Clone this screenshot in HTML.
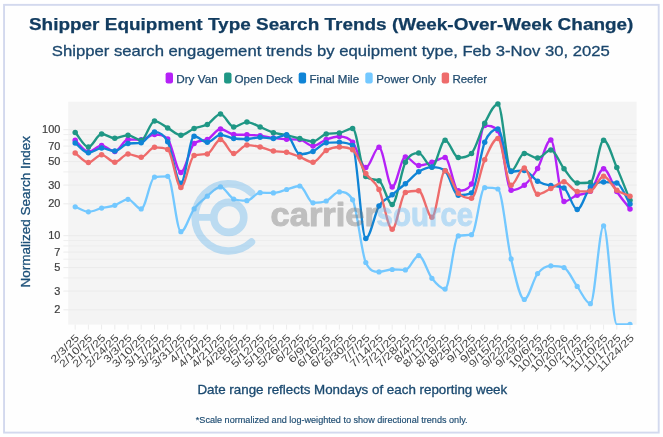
<!DOCTYPE html>
<html lang="en"><head><meta charset="utf-8"><title>Shipper Equipment Type Search Trends</title>
<style>html,body{margin:0;padding:0;background:#fff}svg{display:block;will-change:transform}text{font-family:"Liberation Sans",sans-serif}</style></head><body>
<svg width="663" height="437" viewBox="0 0 663 437">
<rect width="663" height="437" fill="#fff"/>
<rect x="4.05" y="4.85" width="654.65" height="427.75" fill="#fefefe" stroke="#d3d9ee" stroke-width="1.9"/>
<text x="331.2" y="30.4" text-anchor="middle" font-size="17.2" font-weight="bold" fill="#123c60" stroke="#123c60" stroke-width="0.25" textLength="604.5" lengthAdjust="spacingAndGlyphs">Shipper Equipment Type Search Trends (Week-Over-Week Change)</text>
<text x="330.8" y="55.8" text-anchor="middle" font-size="15" fill="#1b476d" stroke="#1b476d" stroke-width="0.3" textLength="558" lengthAdjust="spacingAndGlyphs">Shipper search engagement trends by equipment type, Feb 3-Nov 30, 2025</text>
<rect x="165.6" y="72.4" width="7.4" height="11" rx="2.2" fill="#b521f7"/>
<text x="176.2" y="82.7" font-size="11.4" fill="#1f4a6e" stroke="#1f4a6e" stroke-width="0.25" textLength="41.5" lengthAdjust="spacingAndGlyphs">Dry Van</text>
<rect x="224.1" y="72.4" width="7.4" height="11" rx="2.2" fill="#1f9785"/>
<text x="234.4" y="82.7" font-size="11.4" fill="#1f4a6e" stroke="#1f4a6e" stroke-width="0.25" textLength="58.2" lengthAdjust="spacingAndGlyphs">Open Deck</text>
<rect x="298.7" y="72.4" width="7.4" height="11" rx="2.2" fill="#0f84d6"/>
<text x="309.5" y="82.7" font-size="11.4" fill="#1f4a6e" stroke="#1f4a6e" stroke-width="0.25" textLength="49.6" lengthAdjust="spacingAndGlyphs">Final Mile</text>
<rect x="365.3" y="72.4" width="7.4" height="11" rx="2.2" fill="#73c8ff"/>
<text x="376.3" y="82.7" font-size="11.4" fill="#1f4a6e" stroke="#1f4a6e" stroke-width="0.25" textLength="59.7" lengthAdjust="spacingAndGlyphs">Power Only</text>
<rect x="441.7" y="72.4" width="7.4" height="11" rx="2.2" fill="#ee6b6b"/>
<text x="452.4" y="82.7" font-size="11.4" fill="#1f4a6e" stroke="#1f4a6e" stroke-width="0.25" textLength="34.6" lengthAdjust="spacingAndGlyphs">Reefer</text>
<rect x="68.2" y="101.7" width="568.4" height="222.9" fill="#f4f4f4"/>
<path d="M68.2 277.9H636.6" stroke="#ededed" stroke-width="1"/><path d="M68.2 259.2H636.6" stroke="#ededed" stroke-width="1"/><path d="M68.2 246H636.6" stroke="#ededed" stroke-width="1"/><path d="M68.2 240.6H636.6" stroke="#ededed" stroke-width="1"/><path d="M68.2 171.9H636.6" stroke="#ededed" stroke-width="1"/><path d="M68.2 153.2H636.6" stroke="#ededed" stroke-width="1"/><path d="M68.2 140H636.6" stroke="#ededed" stroke-width="1"/><path d="M68.2 134.6H636.6" stroke="#ededed" stroke-width="1"/><path d="M68.2 309.8H636.6" stroke="#ebebeb" stroke-width="1"/><path d="M68.2 291.1H636.6" stroke="#ebebeb" stroke-width="1"/><path d="M68.2 267.6H636.6" stroke="#ebebeb" stroke-width="1"/><path d="M68.2 252.1H636.6" stroke="#ebebeb" stroke-width="1"/><path d="M68.2 235.7H636.6" stroke="#ebebeb" stroke-width="1"/><path d="M68.2 203.8H636.6" stroke="#ebebeb" stroke-width="1"/><path d="M68.2 185.1H636.6" stroke="#ebebeb" stroke-width="1"/><path d="M68.2 161.6H636.6" stroke="#ebebeb" stroke-width="1"/><path d="M68.2 146.1H636.6" stroke="#ebebeb" stroke-width="1"/><path d="M68.2 129.7H636.6" stroke="#ebebeb" stroke-width="1"/>
<path d="M63.4 277.9H68.2" stroke="#efefef" stroke-width="1"/>
<path d="M63.4 259.2H68.2" stroke="#efefef" stroke-width="1"/>
<path d="M63.4 246H68.2" stroke="#efefef" stroke-width="1"/>
<path d="M63.4 240.6H68.2" stroke="#efefef" stroke-width="1"/>
<path d="M63.4 171.9H68.2" stroke="#efefef" stroke-width="1"/>
<path d="M63.4 153.2H68.2" stroke="#efefef" stroke-width="1"/>
<path d="M63.4 140H68.2" stroke="#efefef" stroke-width="1"/>
<path d="M63.4 134.6H68.2" stroke="#efefef" stroke-width="1"/>
<path d="M63.4 309.8H68.2" stroke="#ececec" stroke-width="1"/>
<text x="60.4" y="313.4" text-anchor="end" font-size="10.5" fill="#3e3e3e" stroke="#3e3e3e" stroke-width="0.2" textLength="6.1" lengthAdjust="spacingAndGlyphs">2</text>
<path d="M63.4 291.1H68.2" stroke="#ececec" stroke-width="1"/>
<text x="60.4" y="294.7" text-anchor="end" font-size="10.5" fill="#3e3e3e" stroke="#3e3e3e" stroke-width="0.2" textLength="6.1" lengthAdjust="spacingAndGlyphs">3</text>
<path d="M63.4 267.6H68.2" stroke="#ececec" stroke-width="1"/>
<text x="60.4" y="271.2" text-anchor="end" font-size="10.5" fill="#3e3e3e" stroke="#3e3e3e" stroke-width="0.2" textLength="6.1" lengthAdjust="spacingAndGlyphs">5</text>
<path d="M63.4 252.1H68.2" stroke="#ececec" stroke-width="1"/>
<text x="60.4" y="255.7" text-anchor="end" font-size="10.5" fill="#3e3e3e" stroke="#3e3e3e" stroke-width="0.2" textLength="6.1" lengthAdjust="spacingAndGlyphs">7</text>
<path d="M63.4 235.7H68.2" stroke="#ececec" stroke-width="1"/>
<text x="60.4" y="239.3" text-anchor="end" font-size="10.5" fill="#3e3e3e" stroke="#3e3e3e" stroke-width="0.2" textLength="12.2" lengthAdjust="spacingAndGlyphs">10</text>
<path d="M63.4 203.8H68.2" stroke="#ececec" stroke-width="1"/>
<text x="60.4" y="207.4" text-anchor="end" font-size="10.5" fill="#3e3e3e" stroke="#3e3e3e" stroke-width="0.2" textLength="12.2" lengthAdjust="spacingAndGlyphs">20</text>
<path d="M63.4 185.1H68.2" stroke="#ececec" stroke-width="1"/>
<text x="60.4" y="188.7" text-anchor="end" font-size="10.5" fill="#3e3e3e" stroke="#3e3e3e" stroke-width="0.2" textLength="12.2" lengthAdjust="spacingAndGlyphs">30</text>
<path d="M63.4 161.6H68.2" stroke="#ececec" stroke-width="1"/>
<text x="60.4" y="165.2" text-anchor="end" font-size="10.5" fill="#3e3e3e" stroke="#3e3e3e" stroke-width="0.2" textLength="12.2" lengthAdjust="spacingAndGlyphs">50</text>
<path d="M63.4 146.1H68.2" stroke="#ececec" stroke-width="1"/>
<text x="60.4" y="149.7" text-anchor="end" font-size="10.5" fill="#3e3e3e" stroke="#3e3e3e" stroke-width="0.2" textLength="12.2" lengthAdjust="spacingAndGlyphs">70</text>
<path d="M63.4 129.7H68.2" stroke="#ececec" stroke-width="1"/>
<text x="60.4" y="133.3" text-anchor="end" font-size="10.5" fill="#3e3e3e" stroke="#3e3e3e" stroke-width="0.2" textLength="18.3" lengthAdjust="spacingAndGlyphs">100</text>
<path d="M75.2 324.6V329.6" stroke="#ececec" stroke-width="1"/>
<text transform="translate(79.8 338.6) rotate(-45)" text-anchor="end" font-size="10.3" fill="#444" textLength="35.4" lengthAdjust="spacingAndGlyphs">2/3/25</text>
<path d="M88.4 324.6V329.6" stroke="#ececec" stroke-width="1"/>
<text transform="translate(93 338.6) rotate(-45)" text-anchor="end" font-size="10.3" fill="#444" textLength="41.7" lengthAdjust="spacingAndGlyphs">2/10/25</text>
<path d="M101.6 324.6V329.6" stroke="#ececec" stroke-width="1"/>
<text transform="translate(106.2 338.6) rotate(-45)" text-anchor="end" font-size="10.3" fill="#444" textLength="41.7" lengthAdjust="spacingAndGlyphs">2/17/25</text>
<path d="M114.8 324.6V329.6" stroke="#ececec" stroke-width="1"/>
<text transform="translate(119.4 338.6) rotate(-45)" text-anchor="end" font-size="10.3" fill="#444" textLength="41.7" lengthAdjust="spacingAndGlyphs">2/24/25</text>
<path d="M128 324.6V329.6" stroke="#ececec" stroke-width="1"/>
<text transform="translate(132.6 338.6) rotate(-45)" text-anchor="end" font-size="10.3" fill="#444" textLength="35.4" lengthAdjust="spacingAndGlyphs">3/3/25</text>
<path d="M141.2 324.6V329.6" stroke="#ececec" stroke-width="1"/>
<text transform="translate(145.8 338.6) rotate(-45)" text-anchor="end" font-size="10.3" fill="#444" textLength="41.7" lengthAdjust="spacingAndGlyphs">3/10/25</text>
<path d="M154.5 324.6V329.6" stroke="#ececec" stroke-width="1"/>
<text transform="translate(159.1 338.6) rotate(-45)" text-anchor="end" font-size="10.3" fill="#444" textLength="41.7" lengthAdjust="spacingAndGlyphs">3/17/25</text>
<path d="M167.7 324.6V329.6" stroke="#ececec" stroke-width="1"/>
<text transform="translate(172.3 338.6) rotate(-45)" text-anchor="end" font-size="10.3" fill="#444" textLength="41.7" lengthAdjust="spacingAndGlyphs">3/24/25</text>
<path d="M180.9 324.6V329.6" stroke="#ececec" stroke-width="1"/>
<text transform="translate(185.5 338.6) rotate(-45)" text-anchor="end" font-size="10.3" fill="#444" textLength="41.7" lengthAdjust="spacingAndGlyphs">3/31/25</text>
<path d="M194.1 324.6V329.6" stroke="#ececec" stroke-width="1"/>
<text transform="translate(198.7 338.6) rotate(-45)" text-anchor="end" font-size="10.3" fill="#444" textLength="35.4" lengthAdjust="spacingAndGlyphs">4/7/25</text>
<path d="M207.3 324.6V329.6" stroke="#ececec" stroke-width="1"/>
<text transform="translate(211.9 338.6) rotate(-45)" text-anchor="end" font-size="10.3" fill="#444" textLength="41.7" lengthAdjust="spacingAndGlyphs">4/14/25</text>
<path d="M220.5 324.6V329.6" stroke="#ececec" stroke-width="1"/>
<text transform="translate(225.1 338.6) rotate(-45)" text-anchor="end" font-size="10.3" fill="#444" textLength="41.7" lengthAdjust="spacingAndGlyphs">4/21/25</text>
<path d="M233.7 324.6V329.6" stroke="#ececec" stroke-width="1"/>
<text transform="translate(238.3 338.6) rotate(-45)" text-anchor="end" font-size="10.3" fill="#444" textLength="41.7" lengthAdjust="spacingAndGlyphs">4/28/25</text>
<path d="M246.9 324.6V329.6" stroke="#ececec" stroke-width="1"/>
<text transform="translate(251.5 338.6) rotate(-45)" text-anchor="end" font-size="10.3" fill="#444" textLength="35.4" lengthAdjust="spacingAndGlyphs">5/5/25</text>
<path d="M260.1 324.6V329.6" stroke="#ececec" stroke-width="1"/>
<text transform="translate(264.7 338.6) rotate(-45)" text-anchor="end" font-size="10.3" fill="#444" textLength="41.7" lengthAdjust="spacingAndGlyphs">5/12/25</text>
<path d="M273.4 324.6V329.6" stroke="#ececec" stroke-width="1"/>
<text transform="translate(278 338.6) rotate(-45)" text-anchor="end" font-size="10.3" fill="#444" textLength="41.7" lengthAdjust="spacingAndGlyphs">5/19/25</text>
<path d="M286.6 324.6V329.6" stroke="#ececec" stroke-width="1"/>
<text transform="translate(291.2 338.6) rotate(-45)" text-anchor="end" font-size="10.3" fill="#444" textLength="41.7" lengthAdjust="spacingAndGlyphs">5/26/25</text>
<path d="M299.8 324.6V329.6" stroke="#ececec" stroke-width="1"/>
<text transform="translate(304.4 338.6) rotate(-45)" text-anchor="end" font-size="10.3" fill="#444" textLength="35.4" lengthAdjust="spacingAndGlyphs">6/2/25</text>
<path d="M313 324.6V329.6" stroke="#ececec" stroke-width="1"/>
<text transform="translate(317.6 338.6) rotate(-45)" text-anchor="end" font-size="10.3" fill="#444" textLength="35.4" lengthAdjust="spacingAndGlyphs">6/9/25</text>
<path d="M326.2 324.6V329.6" stroke="#ececec" stroke-width="1"/>
<text transform="translate(330.8 338.6) rotate(-45)" text-anchor="end" font-size="10.3" fill="#444" textLength="41.7" lengthAdjust="spacingAndGlyphs">6/16/25</text>
<path d="M339.4 324.6V329.6" stroke="#ececec" stroke-width="1"/>
<text transform="translate(344 338.6) rotate(-45)" text-anchor="end" font-size="10.3" fill="#444" textLength="41.7" lengthAdjust="spacingAndGlyphs">6/23/25</text>
<path d="M352.6 324.6V329.6" stroke="#ececec" stroke-width="1"/>
<text transform="translate(357.2 338.6) rotate(-45)" text-anchor="end" font-size="10.3" fill="#444" textLength="41.7" lengthAdjust="spacingAndGlyphs">6/30/25</text>
<path d="M365.8 324.6V329.6" stroke="#ececec" stroke-width="1"/>
<text transform="translate(370.4 338.6) rotate(-45)" text-anchor="end" font-size="10.3" fill="#444" textLength="35.4" lengthAdjust="spacingAndGlyphs">7/7/25</text>
<path d="M379 324.6V329.6" stroke="#ececec" stroke-width="1"/>
<text transform="translate(383.6 338.6) rotate(-45)" text-anchor="end" font-size="10.3" fill="#444" textLength="41.7" lengthAdjust="spacingAndGlyphs">7/14/25</text>
<path d="M392.2 324.6V329.6" stroke="#ececec" stroke-width="1"/>
<text transform="translate(396.8 338.6) rotate(-45)" text-anchor="end" font-size="10.3" fill="#444" textLength="41.7" lengthAdjust="spacingAndGlyphs">7/21/25</text>
<path d="M405.4 324.6V329.6" stroke="#ececec" stroke-width="1"/>
<text transform="translate(410.1 338.6) rotate(-45)" text-anchor="end" font-size="10.3" fill="#444" textLength="41.7" lengthAdjust="spacingAndGlyphs">7/28/25</text>
<path d="M418.7 324.6V329.6" stroke="#ececec" stroke-width="1"/>
<text transform="translate(423.3 338.6) rotate(-45)" text-anchor="end" font-size="10.3" fill="#444" textLength="35.4" lengthAdjust="spacingAndGlyphs">8/4/25</text>
<path d="M431.9 324.6V329.6" stroke="#ececec" stroke-width="1"/>
<text transform="translate(436.5 338.6) rotate(-45)" text-anchor="end" font-size="10.3" fill="#444" textLength="41.7" lengthAdjust="spacingAndGlyphs">8/11/25</text>
<path d="M445.1 324.6V329.6" stroke="#ececec" stroke-width="1"/>
<text transform="translate(449.7 338.6) rotate(-45)" text-anchor="end" font-size="10.3" fill="#444" textLength="41.7" lengthAdjust="spacingAndGlyphs">8/18/25</text>
<path d="M458.3 324.6V329.6" stroke="#ececec" stroke-width="1"/>
<text transform="translate(462.9 338.6) rotate(-45)" text-anchor="end" font-size="10.3" fill="#444" textLength="41.7" lengthAdjust="spacingAndGlyphs">8/25/25</text>
<path d="M471.5 324.6V329.6" stroke="#ececec" stroke-width="1"/>
<text transform="translate(476.1 338.6) rotate(-45)" text-anchor="end" font-size="10.3" fill="#444" textLength="35.4" lengthAdjust="spacingAndGlyphs">9/1/25</text>
<path d="M484.7 324.6V329.6" stroke="#ececec" stroke-width="1"/>
<text transform="translate(489.3 338.6) rotate(-45)" text-anchor="end" font-size="10.3" fill="#444" textLength="35.4" lengthAdjust="spacingAndGlyphs">9/8/25</text>
<path d="M497.9 324.6V329.6" stroke="#ececec" stroke-width="1"/>
<text transform="translate(502.5 338.6) rotate(-45)" text-anchor="end" font-size="10.3" fill="#444" textLength="41.7" lengthAdjust="spacingAndGlyphs">9/15/25</text>
<path d="M511.1 324.6V329.6" stroke="#ececec" stroke-width="1"/>
<text transform="translate(515.7 338.6) rotate(-45)" text-anchor="end" font-size="10.3" fill="#444" textLength="41.7" lengthAdjust="spacingAndGlyphs">9/22/25</text>
<path d="M524.3 324.6V329.6" stroke="#ececec" stroke-width="1"/>
<text transform="translate(528.9 338.6) rotate(-45)" text-anchor="end" font-size="10.3" fill="#444" textLength="41.7" lengthAdjust="spacingAndGlyphs">9/29/25</text>
<path d="M537.6 324.6V329.6" stroke="#ececec" stroke-width="1"/>
<text transform="translate(542.2 338.6) rotate(-45)" text-anchor="end" font-size="10.3" fill="#444" textLength="41.7" lengthAdjust="spacingAndGlyphs">10/6/25</text>
<path d="M550.8 324.6V329.6" stroke="#ececec" stroke-width="1"/>
<text transform="translate(555.4 338.6) rotate(-45)" text-anchor="end" font-size="10.3" fill="#444" textLength="48" lengthAdjust="spacingAndGlyphs">10/13/25</text>
<path d="M564 324.6V329.6" stroke="#ececec" stroke-width="1"/>
<text transform="translate(568.6 338.6) rotate(-45)" text-anchor="end" font-size="10.3" fill="#444" textLength="48" lengthAdjust="spacingAndGlyphs">10/20/26</text>
<path d="M577.2 324.6V329.6" stroke="#ececec" stroke-width="1"/>
<text transform="translate(581.8 338.6) rotate(-45)" text-anchor="end" font-size="10.3" fill="#444" textLength="48" lengthAdjust="spacingAndGlyphs">10/27/25</text>
<path d="M590.4 324.6V329.6" stroke="#ececec" stroke-width="1"/>
<text transform="translate(595 338.6) rotate(-45)" text-anchor="end" font-size="10.3" fill="#444" textLength="41.7" lengthAdjust="spacingAndGlyphs">11/3/25</text>
<path d="M603.6 324.6V329.6" stroke="#ececec" stroke-width="1"/>
<text transform="translate(608.2 338.6) rotate(-45)" text-anchor="end" font-size="10.3" fill="#444" textLength="48" lengthAdjust="spacingAndGlyphs">11/10/25</text>
<path d="M616.8 324.6V329.6" stroke="#ececec" stroke-width="1"/>
<text transform="translate(621.4 338.6) rotate(-45)" text-anchor="end" font-size="10.3" fill="#444" textLength="48" lengthAdjust="spacingAndGlyphs">11/17/25</text>
<path d="M630 324.6V329.6" stroke="#ececec" stroke-width="1"/>
<text transform="translate(634.6 338.6) rotate(-45)" text-anchor="end" font-size="10.3" fill="#444" textLength="48" lengthAdjust="spacingAndGlyphs">11/24/25</text>
<text transform="translate(30.4 211.8) rotate(-90)" text-anchor="middle" font-size="13.2" fill="#1b4f78" stroke="#1b4f78" stroke-width="0.3" textLength="151.5" lengthAdjust="spacingAndGlyphs">Normalized Search Index</text>
<text x="352.3" y="394.1" text-anchor="middle" font-size="12.2" fill="#1b4a70" stroke="#1b4a70" stroke-width="0.3" textLength="309.8" lengthAdjust="spacingAndGlyphs">Date range reflects Mondays of each reporting week</text>
<text x="331.7" y="422.8" text-anchor="middle" font-size="8.8" fill="#1b4a70" stroke="#1b4a70" stroke-width="0.15" textLength="271.8" lengthAdjust="spacingAndGlyphs">*Scale normalized and log-weighted to show directional trends only.</text>
<defs><clipPath id="pc"><rect x="68.2" y="98.7" width="568.4" height="226.2"/></clipPath></defs>
<g clip-path="url(#pc)" fill="none" stroke-linejoin="round" stroke-linecap="round">
<path d="M75.2 140.3C79.6 144.1 84 151.8 88.4 151.8C92.8 151.8 97.2 145.6 101.6 145.6C106 145.6 110.4 151.4 114.8 151.4C119.2 151.4 123.6 139.5 128 139.5C132.4 139.5 136.8 139.8 141.2 139.8C145.7 139.8 150.1 134.5 154.5 134.5C158.9 134.5 163.3 134.5 167.7 139C172.1 143.5 176.5 172.4 180.9 172.4C185.3 172.4 189.7 147.2 194.1 143.5C198.5 139.8 202.9 141.1 207.3 139.5C211.7 137.9 216.1 129 220.5 129C224.9 129 229.3 134.2 233.7 134.5C238.1 134.8 242.5 134.7 246.9 134.8C251.3 134.9 255.7 135.2 260.1 135.7C264.5 136.2 268.9 137.3 273.4 137.9C277.8 138.5 282.2 139.2 286.6 139.3C291 139.4 295.4 139.3 299.8 139.6C304.2 139.9 308.6 146.1 313 146.1C317.4 146.1 321.8 141.1 326.2 139.5C330.6 137.9 335 136.5 339.4 136.5C343.8 136.5 348.2 137.1 352.6 142.3C357 147.5 361.4 167.6 365.8 167.6C370.2 167.6 374.6 147.3 379 147.3C383.4 147.3 387.8 186.9 392.2 186.9C396.6 186.9 401 156.9 405.4 156.9C409.9 156.9 414.3 165.5 418.7 165.5C423.1 165.5 427.5 163.6 431.9 162.3C436.3 161 440.7 157.6 445.1 157.6C449.5 157.6 453.9 190.7 458.3 190.7C462.7 190.7 467.1 190.7 471.5 184.1C475.9 177.5 480.3 125.6 484.7 125.6C489.1 125.6 493.5 125.6 497.9 130.8C502.3 136 506.7 190.2 511.1 190.2C515.5 190.2 519.9 188.8 524.3 185.2C528.7 181.6 533.1 176 537.6 168.5C542 161 546.4 140 550.8 140C555.2 140 559.6 201.5 564 201.5C568.4 201.5 572.8 196.7 577.2 195.2C581.6 193.7 586 194.9 590.4 191.2C594.8 187.5 599.2 168.8 603.6 168.8C608 168.8 612.4 184.8 616.8 191.5C621.2 198.2 625.6 203.2 630 209" stroke="#b521f7" stroke-width="2.35"/>
<g fill="#b521f7" stroke="none"><circle cx="75.2" cy="140.3" r="2.75"/><circle cx="88.4" cy="151.8" r="2.75"/><circle cx="101.6" cy="145.6" r="2.75"/><circle cx="114.8" cy="151.4" r="2.75"/><circle cx="128" cy="139.5" r="2.75"/><circle cx="141.2" cy="139.8" r="2.75"/><circle cx="154.5" cy="134.5" r="2.75"/><circle cx="167.7" cy="139" r="2.75"/><circle cx="180.9" cy="172.4" r="2.75"/><circle cx="194.1" cy="143.5" r="2.75"/><circle cx="207.3" cy="139.5" r="2.75"/><circle cx="220.5" cy="129" r="2.75"/><circle cx="233.7" cy="134.5" r="2.75"/><circle cx="246.9" cy="134.8" r="2.75"/><circle cx="260.1" cy="135.7" r="2.75"/><circle cx="273.4" cy="137.9" r="2.75"/><circle cx="286.6" cy="139.3" r="2.75"/><circle cx="299.8" cy="139.6" r="2.75"/><circle cx="313" cy="146.1" r="2.75"/><circle cx="326.2" cy="139.5" r="2.75"/><circle cx="339.4" cy="136.5" r="2.75"/><circle cx="352.6" cy="142.3" r="2.75"/><circle cx="365.8" cy="167.6" r="2.75"/><circle cx="379" cy="147.3" r="2.75"/><circle cx="392.2" cy="186.9" r="2.75"/><circle cx="405.4" cy="156.9" r="2.75"/><circle cx="418.7" cy="165.5" r="2.75"/><circle cx="431.9" cy="162.3" r="2.75"/><circle cx="445.1" cy="157.6" r="2.75"/><circle cx="458.3" cy="190.7" r="2.75"/><circle cx="471.5" cy="184.1" r="2.75"/><circle cx="484.7" cy="125.6" r="2.75"/><circle cx="497.9" cy="130.8" r="2.75"/><circle cx="511.1" cy="190.2" r="2.75"/><circle cx="524.3" cy="185.2" r="2.75"/><circle cx="537.6" cy="168.5" r="2.75"/><circle cx="550.8" cy="140" r="2.75"/><circle cx="564" cy="201.5" r="2.75"/><circle cx="577.2" cy="195.2" r="2.75"/><circle cx="590.4" cy="191.2" r="2.75"/><circle cx="603.6" cy="168.8" r="2.75"/><circle cx="616.8" cy="191.5" r="2.75"/><circle cx="630" cy="209" r="2.75"/></g>
<path d="M75.2 132.4C79.6 137.3 84 147 88.4 147C92.8 147 97.2 134 101.6 134C106 134 110.4 138.2 114.8 138.2C119.2 138.2 123.6 135.2 128 135.2C132.4 135.2 136.8 140.2 141.2 140.2C145.7 140.2 150.1 121.1 154.5 121.1C158.9 121.1 163.3 125.5 167.7 127.9C172.1 130.2 176.5 135.2 180.9 135.2C185.3 135.2 189.7 130.3 194.1 128.5C198.5 126.7 202.9 126.8 207.3 124.4C211.7 122 216.1 114.1 220.5 114.1C224.9 114.1 229.3 126.9 233.7 126.9C238.1 126.9 242.5 122.1 246.9 122.1C251.3 122.1 255.7 125.1 260.1 126.9C264.5 128.7 268.9 131.3 273.4 132.7C277.8 134.1 282.2 134.2 286.6 135.2C291 136.2 295.4 137.4 299.8 138.5C304.2 139.6 308.6 141.5 313 141.5C317.4 141.5 321.8 134.9 326.2 134C330.6 133.1 335 133.5 339.4 132.9C343.8 132.3 348.2 128.5 352.6 128.5C357 128.5 361.4 173 365.8 176.6C370.2 180.2 374.6 178.8 379 180.7C383.4 182.6 387.8 204.5 392.2 204.5C396.6 204.5 401 170.8 405.4 162.2C409.9 153.6 414.3 153.1 418.7 153.1C423.1 153.1 427.5 167.2 431.9 167.2C436.3 167.2 440.7 140.2 445.1 140.2C449.5 140.2 453.9 157.6 458.3 157.6C462.7 157.6 467.1 157.6 471.5 153.4C475.9 149.2 480.3 131.4 484.7 123.2C489.1 115 493.5 104.1 497.9 104.1C502.3 104.1 506.7 171 511.1 171C515.5 171 519.9 153.4 524.3 153.4C528.7 153.4 533.1 158.1 537.6 158.1C542 158.1 546.4 150 550.8 150C555.2 150 559.6 163.3 564 168.8C568.4 174.3 572.8 183 577.2 183C581.6 183 586 183 590.4 182.5C594.8 182 599.2 140.2 603.6 140.2C608 140.2 612.4 157.6 616.8 167.6C621.2 177.6 625.6 189.3 630 200.2" stroke="#1f9785" stroke-width="2.35"/>
<g fill="#1f9785" stroke="none"><circle cx="75.2" cy="132.4" r="2.75"/><circle cx="88.4" cy="147" r="2.75"/><circle cx="101.6" cy="134" r="2.75"/><circle cx="114.8" cy="138.2" r="2.75"/><circle cx="128" cy="135.2" r="2.75"/><circle cx="141.2" cy="140.2" r="2.75"/><circle cx="154.5" cy="121.1" r="2.75"/><circle cx="167.7" cy="127.9" r="2.75"/><circle cx="180.9" cy="135.2" r="2.75"/><circle cx="194.1" cy="128.5" r="2.75"/><circle cx="207.3" cy="124.4" r="2.75"/><circle cx="220.5" cy="114.1" r="2.75"/><circle cx="233.7" cy="126.9" r="2.75"/><circle cx="246.9" cy="122.1" r="2.75"/><circle cx="260.1" cy="126.9" r="2.75"/><circle cx="273.4" cy="132.7" r="2.75"/><circle cx="286.6" cy="135.2" r="2.75"/><circle cx="299.8" cy="138.5" r="2.75"/><circle cx="313" cy="141.5" r="2.75"/><circle cx="326.2" cy="134" r="2.75"/><circle cx="339.4" cy="132.9" r="2.75"/><circle cx="352.6" cy="128.5" r="2.75"/><circle cx="365.8" cy="176.6" r="2.75"/><circle cx="379" cy="180.7" r="2.75"/><circle cx="392.2" cy="204.5" r="2.75"/><circle cx="405.4" cy="162.2" r="2.75"/><circle cx="418.7" cy="153.1" r="2.75"/><circle cx="431.9" cy="167.2" r="2.75"/><circle cx="445.1" cy="140.2" r="2.75"/><circle cx="458.3" cy="157.6" r="2.75"/><circle cx="471.5" cy="153.4" r="2.75"/><circle cx="484.7" cy="123.2" r="2.75"/><circle cx="497.9" cy="104.1" r="2.75"/><circle cx="511.1" cy="171" r="2.75"/><circle cx="524.3" cy="153.4" r="2.75"/><circle cx="537.6" cy="158.1" r="2.75"/><circle cx="550.8" cy="150" r="2.75"/><circle cx="564" cy="168.8" r="2.75"/><circle cx="577.2" cy="183" r="2.75"/><circle cx="590.4" cy="182.5" r="2.75"/><circle cx="603.6" cy="140.2" r="2.75"/><circle cx="616.8" cy="167.6" r="2.75"/><circle cx="630" cy="200.2" r="2.75"/></g>
<path d="M75.2 143.1C79.6 146.3 84 152.8 88.4 152.8C92.8 152.8 97.2 148.1 101.6 148.1C106 148.1 110.4 151.1 114.8 151.1C119.2 151.1 123.6 143.9 128 143.5C132.4 143.1 136.8 143.4 141.2 142.8C145.7 142.2 150.1 131.9 154.5 131.9C158.9 131.9 163.3 133.2 167.7 141.8C172.1 150.3 176.5 183.2 180.9 183.2C185.3 183.2 189.7 136.2 194.1 136.2C198.5 136.2 202.9 142.3 207.3 142.3C211.7 142.3 216.1 134.8 220.5 134.8C224.9 134.8 229.3 138 233.7 138.5C238.1 139 242.5 139 246.9 139C251.3 139 255.7 137.3 260.1 137.3C264.5 137.3 268.9 138.5 273.4 138.5C277.8 138.5 282.2 134.8 286.6 134.8C291 134.8 295.4 154.4 299.8 154.4C304.2 154.4 308.6 153.3 313 151.4C317.4 149.5 321.8 143.3 326.2 142.8C330.6 142.3 335 142.3 339.4 142.3C343.8 142.3 348.2 142.3 352.6 145.6C357 148.9 361.4 238.5 365.8 238.5C370.2 238.5 374.6 213.4 379 206.1C383.4 198.8 387.8 198.5 392.2 194.8C396.6 191.1 401 187.5 405.4 183.7C409.9 179.9 414.3 174.6 418.7 171.8C423.1 169 427.5 167.1 431.9 167.1C436.3 167.1 440.7 167.1 445.1 170.8C449.5 174.5 453.9 195.2 458.3 195.2C462.7 195.2 467.1 195.2 471.5 192.9C475.9 190.6 480.3 153 484.7 142.3C489.1 131.7 493.5 129 497.9 129C502.3 129 506.7 171.6 511.1 171.6C515.5 171.6 519.9 170.4 524.3 170.4C528.7 170.4 533.1 178.7 537.6 181.2C542 183.7 546.4 184.9 550.8 185.6C555.2 186.3 559.6 185.7 564 188C568.4 190.3 572.8 209.5 577.2 209.5C581.6 209.5 586 191.6 590.4 187C594.8 182.4 599.2 182.1 603.6 182.1C608 182.1 612.4 182.1 616.8 182.9C621.2 183.7 625.6 197 630 204" stroke="#0f84d6" stroke-width="2.35"/>
<g fill="#0f84d6" stroke="none"><circle cx="75.2" cy="143.1" r="2.75"/><circle cx="88.4" cy="152.8" r="2.75"/><circle cx="101.6" cy="148.1" r="2.75"/><circle cx="114.8" cy="151.1" r="2.75"/><circle cx="128" cy="143.5" r="2.75"/><circle cx="141.2" cy="142.8" r="2.75"/><circle cx="154.5" cy="131.9" r="2.75"/><circle cx="167.7" cy="141.8" r="2.75"/><circle cx="180.9" cy="183.2" r="2.75"/><circle cx="194.1" cy="136.2" r="2.75"/><circle cx="207.3" cy="142.3" r="2.75"/><circle cx="220.5" cy="134.8" r="2.75"/><circle cx="233.7" cy="138.5" r="2.75"/><circle cx="246.9" cy="139" r="2.75"/><circle cx="260.1" cy="137.3" r="2.75"/><circle cx="273.4" cy="138.5" r="2.75"/><circle cx="286.6" cy="134.8" r="2.75"/><circle cx="299.8" cy="154.4" r="2.75"/><circle cx="313" cy="151.4" r="2.75"/><circle cx="326.2" cy="142.8" r="2.75"/><circle cx="339.4" cy="142.3" r="2.75"/><circle cx="352.6" cy="145.6" r="2.75"/><circle cx="365.8" cy="238.5" r="2.75"/><circle cx="379" cy="206.1" r="2.75"/><circle cx="392.2" cy="194.8" r="2.75"/><circle cx="405.4" cy="183.7" r="2.75"/><circle cx="418.7" cy="171.8" r="2.75"/><circle cx="431.9" cy="167.1" r="2.75"/><circle cx="445.1" cy="170.8" r="2.75"/><circle cx="458.3" cy="195.2" r="2.75"/><circle cx="471.5" cy="192.9" r="2.75"/><circle cx="484.7" cy="142.3" r="2.75"/><circle cx="497.9" cy="129" r="2.75"/><circle cx="511.1" cy="171.6" r="2.75"/><circle cx="524.3" cy="170.4" r="2.75"/><circle cx="537.6" cy="181.2" r="2.75"/><circle cx="550.8" cy="185.6" r="2.75"/><circle cx="564" cy="188" r="2.75"/><circle cx="577.2" cy="209.5" r="2.75"/><circle cx="590.4" cy="187" r="2.75"/><circle cx="603.6" cy="182.1" r="2.75"/><circle cx="616.8" cy="182.9" r="2.75"/><circle cx="630" cy="204" r="2.75"/></g>
<path d="M75.2 206.8C79.6 208.5 84 211.8 88.4 211.8C92.8 211.8 97.2 209.2 101.6 208.1C106 207 110.4 206.8 114.8 205.3C119.2 203.8 123.6 199.3 128 199.3C132.4 199.3 136.8 208.9 141.2 208.9C145.7 208.9 150.1 177.9 154.5 177.1C158.9 176.3 163.3 176.3 167.7 176.3C172.1 176.3 176.5 231.7 180.9 231.7C185.3 231.7 189.7 214.8 194.1 208.9C198.5 203 202.9 199.9 207.3 196.2C211.7 192.5 216.1 186.9 220.5 186.9C224.9 186.9 229.3 197.3 233.7 199C238.1 200.7 242.5 200.7 246.9 200.7C251.3 200.7 255.7 192.7 260.1 192.7C264.5 192.7 268.9 192.9 273.4 192.9C277.8 192.9 282.2 190.7 286.6 189.5C291 188.3 295.4 186 299.8 186C304.2 186 308.6 202.8 313 202.8C317.4 202.8 321.8 202.8 326.2 201C330.6 199.2 335 191.9 339.4 191.9C343.8 191.9 348.2 191.9 352.6 199.8C357 207.7 361.4 253.1 365.8 262.5C370.2 271.9 374.6 271.9 379 271.9C383.4 271.9 387.8 269.5 392.2 269.5C396.6 269.5 401 269.9 405.4 269.9C409.9 269.9 414.3 255.6 418.7 255.6C423.1 255.6 427.5 272.7 431.9 278.3C436.3 283.9 440.7 289.1 445.1 289.1C449.5 289.1 453.9 236.8 458.3 235.9C462.7 235 467.1 235.5 471.5 234.7C475.9 233.9 480.3 187.7 484.7 187.7C489.1 187.7 493.5 187.7 497.9 189C502.3 190.3 506.7 240.5 511.1 258.9C515.5 277.3 519.9 299.5 524.3 299.5C528.7 299.5 533.1 279.2 537.6 273.6C542 268 546.4 265.8 550.8 265.8C555.2 265.8 559.6 265.8 564 267.6C568.4 269.4 572.8 280.4 577.2 286.4C581.6 292.4 586 303.7 590.4 303.7C594.8 303.7 599.2 225.8 603.6 225.8C608 225.8 612.4 324.4 616.8 324.4C621.2 324.4 625.6 324.3 630 324.3" stroke="#73c8ff" stroke-width="2.3"/>
<g fill="#73c8ff" stroke="none"><circle cx="75.2" cy="206.8" r="2.6"/><circle cx="88.4" cy="211.8" r="2.6"/><circle cx="101.6" cy="208.1" r="2.6"/><circle cx="114.8" cy="205.3" r="2.6"/><circle cx="128" cy="199.3" r="2.6"/><circle cx="141.2" cy="208.9" r="2.6"/><circle cx="154.5" cy="177.1" r="2.6"/><circle cx="167.7" cy="176.3" r="2.6"/><circle cx="180.9" cy="231.7" r="2.6"/><circle cx="194.1" cy="208.9" r="2.6"/><circle cx="207.3" cy="196.2" r="2.6"/><circle cx="220.5" cy="186.9" r="2.6"/><circle cx="233.7" cy="199" r="2.6"/><circle cx="246.9" cy="200.7" r="2.6"/><circle cx="260.1" cy="192.7" r="2.6"/><circle cx="273.4" cy="192.9" r="2.6"/><circle cx="286.6" cy="189.5" r="2.6"/><circle cx="299.8" cy="186" r="2.6"/><circle cx="313" cy="202.8" r="2.6"/><circle cx="326.2" cy="201" r="2.6"/><circle cx="339.4" cy="191.9" r="2.6"/><circle cx="352.6" cy="199.8" r="2.6"/><circle cx="365.8" cy="262.5" r="2.6"/><circle cx="379" cy="271.9" r="2.6"/><circle cx="392.2" cy="269.5" r="2.6"/><circle cx="405.4" cy="269.9" r="2.6"/><circle cx="418.7" cy="255.6" r="2.6"/><circle cx="431.9" cy="278.3" r="2.6"/><circle cx="445.1" cy="289.1" r="2.6"/><circle cx="458.3" cy="235.9" r="2.6"/><circle cx="471.5" cy="234.7" r="2.6"/><circle cx="484.7" cy="187.7" r="2.6"/><circle cx="497.9" cy="189" r="2.6"/><circle cx="511.1" cy="258.9" r="2.6"/><circle cx="524.3" cy="299.5" r="2.6"/><circle cx="537.6" cy="273.6" r="2.6"/><circle cx="550.8" cy="265.8" r="2.6"/><circle cx="564" cy="267.6" r="2.6"/><circle cx="577.2" cy="286.4" r="2.6"/><circle cx="590.4" cy="303.7" r="2.6"/><circle cx="603.6" cy="225.8" r="2.6"/><circle cx="630" cy="324.3" r="2.6"/></g>
<path d="M75.2 153.1C79.6 156.3 84 162.6 88.4 162.6C92.8 162.6 97.2 154.8 101.6 154.8C106 154.8 110.4 162.2 114.8 162.2C119.2 162.2 123.6 154.1 128 154.1C132.4 154.1 136.8 157.2 141.2 157.2C145.7 157.2 150.1 147.3 154.5 147.3C158.9 147.3 163.3 147.3 167.7 149.4C172.1 151.5 176.5 187.4 180.9 187.4C185.3 187.4 189.7 157.1 194.1 155.6C198.5 154.1 202.9 154.6 207.3 153.9C211.7 153.2 216.1 139.5 220.5 139.5C224.9 139.5 229.3 153.6 233.7 153.6C238.1 153.6 242.5 145.1 246.9 145.1C251.3 145.1 255.7 146 260.1 147C264.5 148 268.9 150.3 273.4 151.1C277.8 151.9 282.2 151.4 286.6 152.3C291 153.2 295.4 155.2 299.8 156.9C304.2 158.6 308.6 162.2 313 162.2C317.4 162.2 321.8 153.1 326.2 150.6C330.6 148.1 335 147 339.4 147C343.8 147 348.2 147 352.6 149.8C357 152.6 361.4 166.9 365.8 173.5C370.2 180.1 374.6 180.2 379 189.5C383.4 198.8 387.8 229.3 392.2 229.3C396.6 229.3 401 194.1 405.4 192.4C409.9 190.7 414.3 190.7 418.7 190.7C423.1 190.7 427.5 217.2 431.9 217.2C436.3 217.2 440.7 170.7 445.1 170.7C449.5 170.7 453.9 188.6 458.3 193.2C462.7 197.8 467.1 198.2 471.5 198.2C475.9 198.2 480.3 169.8 484.7 159.8C489.1 149.9 493.5 138.5 497.9 138.5C502.3 138.5 506.7 185.2 511.1 185.2C515.5 185.2 519.9 167.9 524.3 167.9C528.7 167.9 533.1 194.3 537.6 194.3C542 194.3 546.4 190.6 550.8 188.5C555.2 186.4 559.6 181.8 564 181.8C568.4 181.8 572.8 191.4 577.2 191.4C581.6 191.4 586 191.4 590.4 191.1C594.8 190.8 599.2 176.2 603.6 176.2C608 176.2 612.4 187 616.8 190.3C621.2 193.6 625.6 194.2 630 196.2" stroke="#ee6b6b" stroke-width="2.35"/>
<g fill="#ee6b6b" stroke="none"><circle cx="75.2" cy="153.1" r="2.75"/><circle cx="88.4" cy="162.6" r="2.75"/><circle cx="101.6" cy="154.8" r="2.75"/><circle cx="114.8" cy="162.2" r="2.75"/><circle cx="128" cy="154.1" r="2.75"/><circle cx="141.2" cy="157.2" r="2.75"/><circle cx="154.5" cy="147.3" r="2.75"/><circle cx="167.7" cy="149.4" r="2.75"/><circle cx="180.9" cy="187.4" r="2.75"/><circle cx="194.1" cy="155.6" r="2.75"/><circle cx="207.3" cy="153.9" r="2.75"/><circle cx="220.5" cy="139.5" r="2.75"/><circle cx="233.7" cy="153.6" r="2.75"/><circle cx="246.9" cy="145.1" r="2.75"/><circle cx="260.1" cy="147" r="2.75"/><circle cx="273.4" cy="151.1" r="2.75"/><circle cx="286.6" cy="152.3" r="2.75"/><circle cx="299.8" cy="156.9" r="2.75"/><circle cx="313" cy="162.2" r="2.75"/><circle cx="326.2" cy="150.6" r="2.75"/><circle cx="339.4" cy="147" r="2.75"/><circle cx="352.6" cy="149.8" r="2.75"/><circle cx="365.8" cy="173.5" r="2.75"/><circle cx="379" cy="189.5" r="2.75"/><circle cx="392.2" cy="229.3" r="2.75"/><circle cx="405.4" cy="192.4" r="2.75"/><circle cx="418.7" cy="190.7" r="2.75"/><circle cx="431.9" cy="217.2" r="2.75"/><circle cx="445.1" cy="170.7" r="2.75"/><circle cx="458.3" cy="193.2" r="2.75"/><circle cx="471.5" cy="198.2" r="2.75"/><circle cx="484.7" cy="159.8" r="2.75"/><circle cx="497.9" cy="138.5" r="2.75"/><circle cx="511.1" cy="185.2" r="2.75"/><circle cx="524.3" cy="167.9" r="2.75"/><circle cx="537.6" cy="194.3" r="2.75"/><circle cx="550.8" cy="188.5" r="2.75"/><circle cx="564" cy="181.8" r="2.75"/><circle cx="577.2" cy="191.4" r="2.75"/><circle cx="590.4" cy="191.1" r="2.75"/><circle cx="603.6" cy="176.2" r="2.75"/><circle cx="616.8" cy="190.3" r="2.75"/><circle cx="630" cy="196.2" r="2.75"/></g>
</g>
<g opacity="0.42">
<g fill="none" stroke="#6db9ee" stroke-linecap="round">
<path d="M251.5 192.8A33.6 33.6 0 1 0 251.5 242" stroke-width="7.4"/>
<circle cx="228.8" cy="217.4" r="15" stroke-width="7.6"/>
<path d="M197 217.4H212" stroke-width="6.8" stroke-linecap="butt"/>
</g>
<text x="270.6" y="226.2" font-size="33" font-weight="bold" fill="#777777" stroke="#777777" stroke-width="1.1" stroke-linejoin="round" textLength="107.2" lengthAdjust="spacingAndGlyphs">carrier</text>
<text x="376.6" y="226.2" font-size="33" font-weight="bold" fill="#6cbcf5" stroke="#6cbcf5" stroke-width="1.1" stroke-linejoin="round" textLength="96.6" lengthAdjust="spacingAndGlyphs">source</text>
</g>
</svg></body></html>
